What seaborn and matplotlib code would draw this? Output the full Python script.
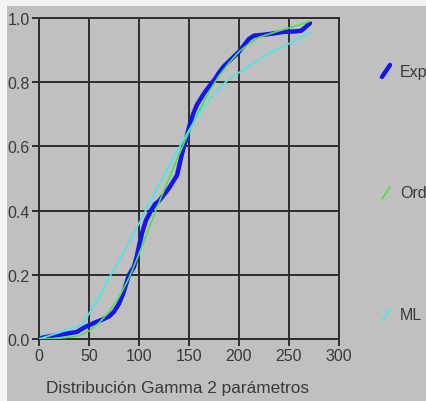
import matplotlib
matplotlib.use("Agg")
import matplotlib.pyplot as plt
import seaborn as sns
import pandas as pd
from matplotlib.lines import Line2D
from matplotlib.patches import Rectangle

# ---- data ----
exp_x = [2, 10, 20, 30, 38, 42, 48, 55, 63, 70, 75, 80, 84, 87, 90, 95, 98, 100, 103, 107,
         112, 116, 120, 125, 130, 134, 138, 141, 144, 147, 150, 154, 158, 162, 166, 171, 176,
         180, 185, 190, 195, 200, 205, 210, 215, 225, 235, 245, 255, 262, 266, 271]
exp_y = [0.003, 0.008, 0.013, 0.018, 0.022, 0.03, 0.04, 0.05, 0.06, 0.07, 0.085, 0.11, 0.14,
         0.17, 0.20, 0.225, 0.26, 0.29, 0.33, 0.37, 0.40, 0.42, 0.43, 0.45, 0.47, 0.49, 0.51,
         0.55, 0.59, 0.62, 0.66, 0.70, 0.73, 0.75, 0.77, 0.79, 0.81, 0.83, 0.85, 0.865, 0.88,
         0.895, 0.915, 0.935, 0.945, 0.948, 0.952, 0.957, 0.958, 0.96, 0.97, 0.984]

ord_x = [0, 20, 40, 50, 60, 70, 80, 90, 100, 110, 120, 130, 140, 150, 160, 170, 180, 190,
         200, 210, 220, 240, 260, 271]
ord_y = [0.0, 0.002, 0.01, 0.025, 0.05, 0.085, 0.13, 0.19, 0.265, 0.345, 0.425, 0.5, 0.575,
         0.645, 0.71, 0.77, 0.82, 0.86, 0.895, 0.92, 0.94, 0.96, 0.978, 0.99]

ml_x = [0, 10, 20, 30, 44, 51, 60, 70, 80, 90, 100, 110, 120, 130, 140, 150, 160, 170, 180,
        190, 200, 215, 230, 250, 271]
ml_y = [0.0, 0.01, 0.02, 0.03, 0.047, 0.084, 0.13, 0.19, 0.245, 0.30, 0.36, 0.42, 0.48,
        0.54, 0.595, 0.65, 0.70, 0.745, 0.78, 0.81, 0.83, 0.86, 0.89, 0.92, 0.955]

series_labels = ["Exp", "Ord", "ML"]
x_ticks = [0, 50, 100, 150, 200, 250, 300]
y_ticks = [0.0, 0.2, 0.4, 0.6, 0.8, 1.0]
x_label = "Distribución Gamma 2 parámetros"

# ---- style ----
GRAY = "#c0c0c0"
sns.set_style("white", {"axes.facecolor": GRAY})
plt.rcParams["font.family"] = ["Liberation Sans", "DejaVu Sans"]

W, H = 427, 402
FS = 11.5
TXT = "#3a3a3a"
fig = plt.figure(figsize=(W / 100, H / 100), dpi=100, facecolor="#f2f5f3")
fig.patches.append(Rectangle((7 / W, 0), 1, 1 - 7 / H, transform=fig.transFigure,
                             facecolor=GRAY, edgecolor="none", zorder=-10))

ax = fig.add_axes([39 / W, 1 - 340 / H, 300 / W, 321 / H])
ax.set_zorder(1)
ax.set_facecolor(GRAY)

df_exp = pd.DataFrame({"x": exp_x, "y": exp_y})
df_ord = pd.DataFrame({"x": ord_x, "y": ord_y})
df_ml = pd.DataFrame({"x": ml_x, "y": ml_y})

colors = ["#1414f0", "#4ee04e", "#4ee6e6"]
sns.lineplot(data=df_exp, x="x", y="y", ax=ax, color=colors[0], lw=3.2, sort=False,
             estimator=None, zorder=3)
sns.lineplot(data=df_ord, x="x", y="y", ax=ax, color=colors[1], lw=1.2, sort=False,
             estimator=None, zorder=4)
sns.lineplot(data=df_ml, x="x", y="y", ax=ax, color=colors[2], lw=1.3, sort=False,
             estimator=None, zorder=5)

ax.set_xlim(0, 300)
ax.set_ylim(0, 1.0)
ax.set_xticks(x_ticks)
ax.set_yticks(y_ticks)
ax.set_xticklabels([str(v) for v in x_ticks])
ax.set_yticklabels([f"{v:.1f}" for v in y_ticks])
ax.set_xlabel("")
ax.set_ylabel("")
ax.grid(True, color="#2e2e2e", lw=1.4)
ax.set_axisbelow(True)
for s in ax.spines.values():
    s.set_color("#2e2e2e")
    s.set_linewidth(1.4)
ax.tick_params(axis="both", direction="out", length=5, width=1.4, color="#2e2e2e",
               labelsize=FS, labelcolor=TXT, pad=1.5, left=True, bottom=True)

fig.text(178 / W, 1 - 389 / H, x_label, ha="center", va="center", fontsize=12.4,
         color=TXT)

# legend (outside, at right)
leg_y = [72, 194, 316]
lws = [3.2, 1.2, 1.3]
for lab, c, yy, lw in zip(series_labels, colors, leg_y, lws):
    fig.add_artist(Line2D([382 / W, 390 / W], [1 - (yy + 6) / H, 1 - (yy - 6) / H],
                          transform=fig.transFigure, color=c, lw=lw))
    fig.text(400 / W, 1 - yy / H, lab, ha="left", va="center", fontsize=FS, color=TXT)

fig.savefig("out.png", dpi=100, facecolor=fig.get_facecolor())
